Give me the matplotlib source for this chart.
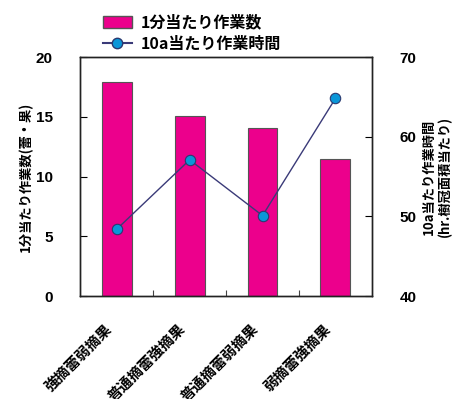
import matplotlib
matplotlib.use('Agg')
import matplotlib.pyplot as plt
import matplotlib.transforms as mtransforms
from matplotlib.lines import Line2D
from matplotlib.patches import Patch
import numpy as np

plt.rcParams['font.family'] = ['Liberation Sans', 'Noto Sans CJK JP', 'DejaVu Sans']
plt.rcParams['font.weight'] = 'bold'
jp = ['Noto Sans CJK JP', 'DejaVu Sans']

# 摘蕾・摘果の組み合わせ
labels = ['強摘蕾弱摘果', '普通摘蕾強摘果', '普通摘蕾弱摘果', '弱摘蕾強摘果']
work_count = [17.9, 15.1, 14.1, 11.5]      # 1分当たり作業数(蕾・果)
work_time = [48.4, 57.1, 50.1, 64.8]       # 10a当たり作業時間(hr)

x = np.arange(len(labels))

fig = plt.figure(figsize=(4.54, 3.99), dpi=100)
ax = fig.add_axes([0.177, 0.258, 0.642, 0.599])
ax2 = ax.twinx()

ax.bar(x, work_count, width=0.41, color='#EC008C', edgecolor='#555555', linewidth=0.8, zorder=2)
ax2.plot(x, work_time, color='#3A3A78', linewidth=1.0, marker='o', markersize=7.5,
         markerfacecolor='#0A96D8', markeredgecolor='#2A3A70', markeredgewidth=0.8)

ax.set_xlim(-0.5, 3.5)
ax.set_ylim(0, 20)
ax2.set_ylim(40, 70)
ax.set_yticks([0, 5, 10, 15, 20])
ax2.set_yticks([40, 50, 60, 70])

# 斜めの項目名は軸の下に直接置く
ax.set_xticks(x)
ax.set_xticklabels([])
offset = mtransforms.ScaledTranslation(-0.13, -0.25, fig.dpi_scale_trans)
lab_tr = mtransforms.blended_transform_factory(ax.transData, ax.transAxes) + offset
for xi, name in zip(x, labels):
    ax.text(xi, 0, name, transform=lab_tr, rotation=45, ha='right', va='top',
            rotation_mode='anchor', fontsize=10.5, fontweight='bold', family=jp)

ax.set_xticks([0.5, 1.5, 2.5], minor=True)
ax.tick_params(axis='x', which='major', length=0)
ax.tick_params(axis='x', which='minor', direction='in', length=4, width=0.8, color='#444444')
ax.tick_params(axis='y', direction='in', length=5, pad=20, labelsize=11)
ax2.tick_params(axis='y', direction='in', length=5, pad=20, labelsize=11)
for t in ax.get_yticklabels() + ax2.get_yticklabels():
    t.set_fontweight('bold')

for a in (ax, ax2):
    for s in a.spines.values():
        s.set_linewidth(1.0)
        s.set_color('#222222')

ax.set_ylabel('1分当たり作業数(蕾・果)', fontsize=9.5, fontweight='bold', labelpad=2, family=jp)
ax2.set_ylabel('10a当たり作業時間\n(hr.樹冠面積当たり)', fontsize=9.5, fontweight='bold',
               labelpad=4, linespacing=1.1, family=jp)

handles = [Patch(facecolor='#EC008C', edgecolor='#555555'),
           Line2D([0], [0], color='#3A3A78', marker='o', markersize=7.5,
                  markerfacecolor='#0A96D8', markeredgecolor='#2A3A70')]
fig.legend(handles, ['1分当たり作業数', '10a当たり作業時間'], loc='upper left',
           bbox_to_anchor=(0.195, 1.0), frameon=False,
           prop={'weight': 'bold', 'size': 11.5, 'family': jp}, handlelength=1.8,
           handleheight=0.8, labelspacing=0.35, handletextpad=0.6)

fig.savefig('out.png', dpi=100)
